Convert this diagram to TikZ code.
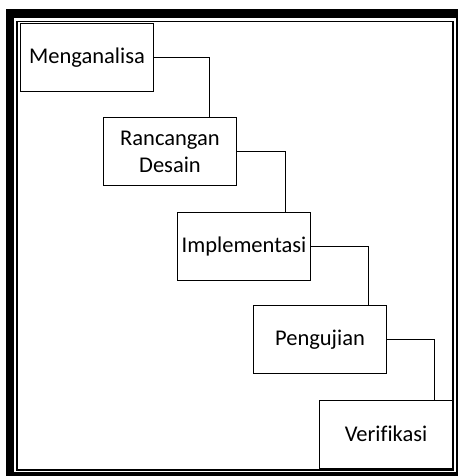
\documentclass[tikz,border=0pt]{standalone}
\usepackage{fontspec}
\setmainfont[Ligatures=CommonOff]{Carlito}
\begin{document}
\begin{tikzpicture}[x=1pt,y=-1pt,
  stage/.style={draw=black, line width=1pt, anchor=north west,
    minimum width=133pt, minimum height=68pt, inner sep=0pt,
    align=center, font=\fontsize{22.5}{27}\selectfont},
  link/.style={draw=black, line width=1pt}]
  \useasboundingbox (0,0) rectangle (458,476);
  % thick-thin page border
  \fill[black] (5.5,9) rectangle (458,476);
  \fill[white] (13.5,18) rectangle (455.5,472);
  \draw[line width=1.8pt] (17,21.5) rectangle (453,470.3);
  % process stages
  \node[stage] (m) at (20,23) {Menganalisa};
  \node[stage] (r) at (103,117) {Rancangan\\Desain};
  \node[stage] (i) at (177,212) {Implementasi};
  \node[stage] (p) at (253,305) {Pengujian};
  \node[stage] (v) at (319,399.5) {Verifikasi};
  % stepped connectors
  \draw[link] (m.east) -| ([xshift=39pt]r.north);
  \draw[link] (r.east) -| ([xshift=41.5pt]i.north);
  \draw[link] (i.east) -| ([xshift=48.5pt]p.north);
  \draw[link] (p.east) -| ([xshift=48pt]v.north);
\end{tikzpicture}
\end{document}
